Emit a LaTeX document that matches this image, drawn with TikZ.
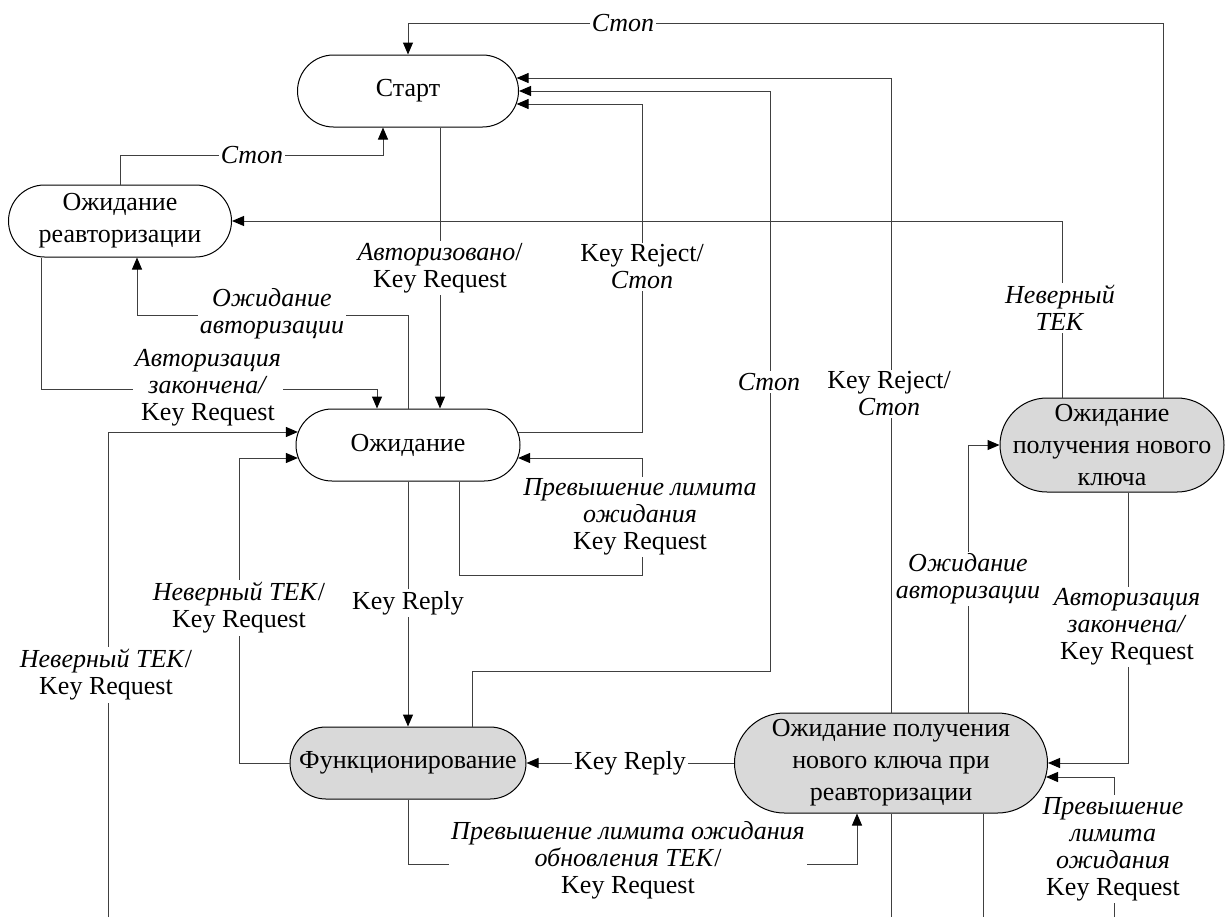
\documentclass[tikz,border=0pt]{standalone}
\usepackage{fontspec}
\setmainfont{Liberation Serif}
\usetikzlibrary{arrows.meta,calc}
\begin{document}
\begin{tikzpicture}[x=0.5pt,y=-0.5pt,
  state/.style={draw=black, line width=0.5pt, rounded corners=18pt,
    minimum height=36pt, inner sep=0pt, align=center,
    font=\fontsize{13}{16}\selectfont},
  active/.style={fill=black!15},
  conn/.style={draw=black!75, line width=0.5pt},
  arr/.style={conn, -{Triangle[length=6pt,width=5pt,color=black]}},
  lbl/.style={fill=white, inner sep=1pt, align=center,
    font=\fontsize{13}{13.5}\selectfont},
]
\useasboundingbox (0,0) rectangle (1226,917);
\fill[white] (0,0) rectangle (1226,917);

% states
\node[state, minimum width=110.5pt] (start) at (408,91) {Старт};
\node[state, minimum width=111.5pt] (reauth) at (120,221) {Ожидание\\реавторизации};
\node[state, minimum width=112pt] (wait) at (408,445) {Ожидание};
\node[state, active, minimum width=118pt] (func) at (408,763) {Функционирование};
\node[state, active, minimum width=112pt, minimum height=47pt, rounded corners=23.5pt]
  (newkey) at (1112,445) {Ожидание\\получения нового\\ключа};
\node[state, active, minimum width=156.5pt, minimum height=50pt, rounded corners=25pt]
  (newkeyre) at (891,763) {Ожидание получения\\нового ключа при\\реавторизации};

% free ends at the lower edge
\coordinate (b1) at (108,917);
\coordinate (b2) at (891,917);
\coordinate (b3) at (983,917);
\coordinate (b4) at (1114,917);

% transitions
\draw[arr] ($(newkey.north)+(51,0)$) |- (408,23) -- (start.north);
\draw[arr] (newkeyre.north) |- ($(start.east)+(-2.4,-13)$);
\draw[arr] ($(func.north)+(64,0)$) -- ++(0,-55) -| (770,91) -- (start.east);
\draw[arr] ($(wait.east)+(-2.4,-13)$) -| (642,104) -- ($(start.east)+(-2.4,13)$);
\draw[arr] ($(start.south)+(32,0)$) -- ($(wait.north)+(32,0)$);
\draw[arr] (reauth.north) |- (383,155) -- ($(start.south)+(-25,0)$);
\draw[arr] ($(newkey.north)+(-50,0)$) |- (reauth.east);
\draw[arr] (wait.north) |- (137,315) -- ($(reauth.south)+(17,0)$);
\draw[arr] ($(reauth.south)+(-79,0)$) |- (377,389) -- ($(wait.north)+(-31,0)$);
\draw[arr] (b1) |- ($(wait.west)+(2.4,-13)$);
\draw[arr] (func.west) -| (239,458) -- ($(wait.west)+(2.4,13)$);
\draw[arr] (wait.south) -- (func.north);
\draw[arr] ($(wait.south)+(51,0)$) |- (642,575) -- (642,458) -- ($(wait.east)+(-2.4,13)$);
\draw[arr] (newkeyre.west) -- (func.east);
\draw[arr] (func.south) |- (857,864) -- ($(newkeyre.south)+(-34,0)$);
\draw[arr] ($(newkeyre.north)+(77,0)$) |- (newkey.west);
\draw[arr] ($(newkey.south)+(16,0)$) |- (newkeyre.east);
\draw[arr] (b4) |- ($(newkeyre.east)+(-2,14)$);
\draw[conn] (newkeyre.south) -- (b2);
\draw[conn] ($(newkeyre.south)+(92,0)$) -- (b3);

% transition labels
\node[lbl] (l1) at (623,23) {\textit{Стоп}};
\node[lbl] (l2) at (889,394) {Key Reject/\\\textit{Стоп}};
\node[lbl] (l3) at (769,382) {\textit{Стоп}};
\node[lbl] (l4) at (642,267) {Key Reject/\\\textit{Стоп}};
\node[lbl] (l5) at (440,268) {\textit{Авторизовано}/\\Key Request};
\node[lbl] (l6) at (252,155) {\textit{Стоп}};
\node[lbl] (l7) at (1060,308) {\textit{Неверный}\\\textit{TEK}};
\node[lbl] (l8) at (272,314) {\textit{Ожидание}\\\textit{авторизации}};
\node[lbl] (l9) at (208,388) {\textit{Авторизация}\\\textit{закончена/}\\Key Request};
\node[lbl] (l10) at (106,675) {\textit{Неверный TEK}/\\Key Request};
\node[lbl] (l11) at (239,608) {\textit{Неверный TEK}/\\Key Request};
\node[lbl] (l12) at (408,603) {Key Reply};
\node[lbl] (l13) at (640,517) {\textit{Превышение лимита}\\\textit{ожидания}\\Key Request};
\node[lbl] (l14) at (630,763) {Key Reply};
\node[lbl] (l15) at (628,860) {\textit{Превышение лимита ожидания}\\\textit{обновления TEK}/\\Key Request};
\node[lbl] (l16) at (968,579) {\textit{Ожидание}\\\textit{авторизации}};
\node[lbl] (l17) at (1127,627) {\textit{Авторизация}\\\textit{закончена/}\\Key Request};
\node[lbl] (l18) at (1113,849) {\textit{Превышение}\\\textit{лимита}\\\textit{ожидания}\\Key Request};
\end{tikzpicture}
\end{document}
